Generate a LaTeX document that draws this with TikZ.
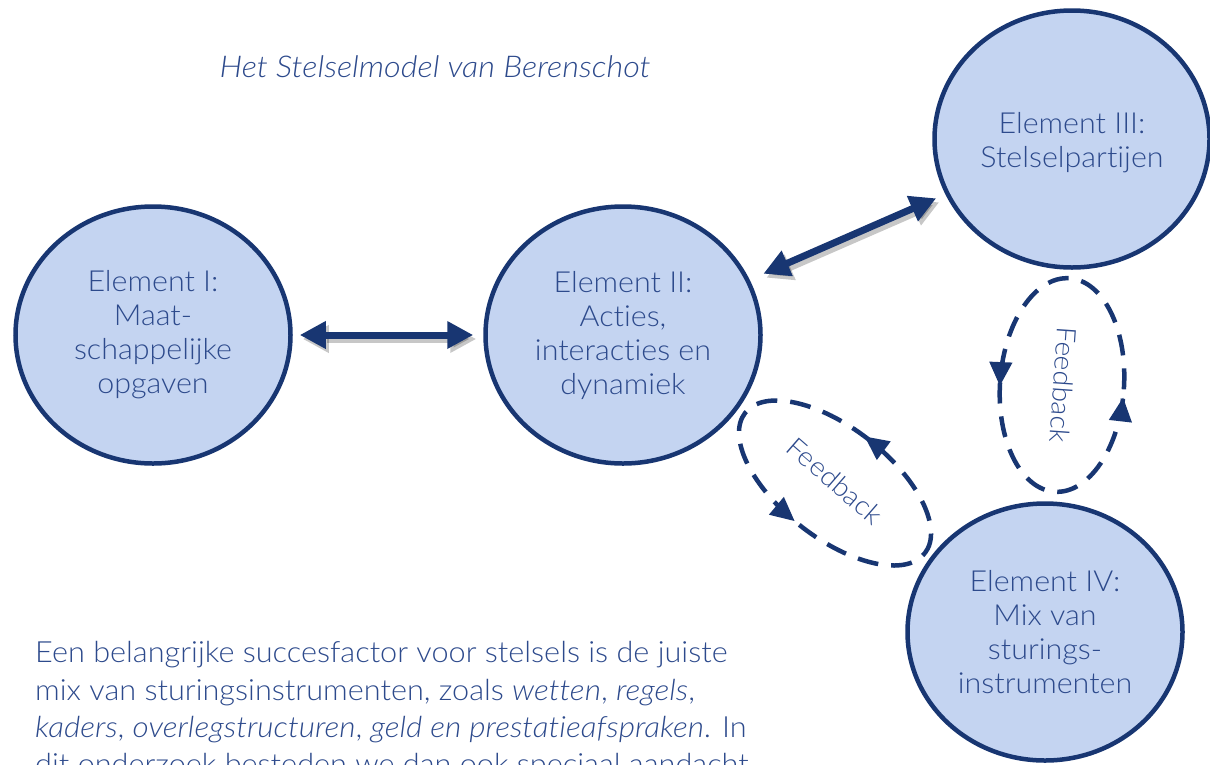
\documentclass[tikz,border=0pt]{standalone}
\usepackage{fontspec}
\usetikzlibrary{arrows.meta,decorations.markings,shapes.geometric}
\IfFontExistsTF{Lato Light}{%
  \IfFontExistsTF{Lato Light Italic}{%
    \setmainfont{Lato Light}[ItalicFont={Lato Light Italic},
      FakeStretch=1.05, Ligatures=NoCommon,
      ItalicFeatures={FakeStretch=1.08}]}{%
    \setmainfont{Lato Light}[FakeStretch=1.05, Ligatures=NoCommon]}}{%
  \setmainfont{Lato}[FakeStretch=1.05, Ligatures=NoCommon]}
\definecolor{navy}{RGB}{24,54,114}
\definecolor{fillblue}{RGB}{196,212,241}
\definecolor{txt}{RGB}{45,74,140}
\tikzset{
  elem/.style={ellipse, draw=navy, line width=4.5pt, fill=fillblue,
    minimum width=275pt, minimum height=257pt, inner sep=0pt, align=center,
    text=txt, font=\fontsize{29}{34}\selectfont},
  bigarrow/.style={draw=navy, line width=7pt,
    {Triangle[length=26pt,width=26pt]}-{Triangle[length=26pt,width=26pt]}},
  arrowshadow/.style={draw=black, opacity=0.22, line width=7pt,
    {Triangle[length=26pt,width=26pt]}-{Triangle[length=26pt,width=26pt]},
    transform canvas={shift={(3pt,-4pt)}}},
  fbloop/.style={draw=navy, line width=4.5pt, dash pattern=on 21pt off 13pt},
  fbtip/.style={navy},
  fblabel/.style={text=txt, font=\fontsize{27}{30}\selectfont, inner sep=0pt},
  bodyline/.style={anchor=base west, text=txt, inner sep=0pt,
    font=\fontsize{29.2}{37}\selectfont},
}
\begin{document}
\begin{tikzpicture}[x=1pt,y=-1pt]
\useasboundingbox (0,0) rectangle (1210,764);
\clip (0,0) rectangle (1210,764);

% title
\node[text=txt, font=\fontsize{30}{36}\selectfont\itshape, anchor=base] (title) at (435,77) {Het Stelselmodel van Berenschot};

% elements
\node[elem] (e1) at (153,335) {Element I:\\Maat-\\schappelijke\\opgaven};
\node[elem] (e2) at (623,335) {Element II:\\Acties,\\interacties en\\dynamiek};
\node[elem] (e3) at (1072,139) {\rule{0pt}{29pt}Element III:\\Stelselpartijen};
\node[elem] (e4) at (1045,632) {Element IV:\\Mix van\\sturings-\\instrumenten};

% double arrows
\draw[arrowshadow, shorten <=7pt, shorten >=10pt] (e1) -- (e2);
\draw[bigarrow, shorten <=7pt, shorten >=10pt] (e1) -- (e2);
\draw[arrowshadow, shorten <=15pt, shorten >=10pt] (e2) -- (e3);
\draw[bigarrow, shorten <=15pt, shorten >=10pt] (e2) -- (e3);

% feedback loop between II and IV
\draw[fbloop, rotate around={-38:(835,483)},
  postaction={decorate, decoration={markings,
    mark=at position 0.26 with {\arrow[fbtip]{Triangle[length=24pt,width=22pt]}},
    mark=at position 0.735 with {\arrow[fbtip]{Triangle[length=24pt,width=22pt]}}}}]
  (835,483) ellipse [x radius=114pt, y radius=55pt];
\node[fblabel, rotate=-41] (fb1) at (835,481) {Feedback};

% feedback loop between III and IV
\draw[fbloop, rotate around={-4:(1062,385)},
  postaction={decorate, decoration={markings,
    mark=at position 0.51 with {\arrow[fbtip]{Triangle[length=24pt,width=22pt]}},
    mark=at position 0.985 with {\arrow[fbtip]{Triangle[length=24pt,width=22pt]}}}}]
  (1062,385) ellipse [x radius=62pt, y radius=107pt];
\node[fblabel, rotate=-94] (fb2) at (1063,385) {Feedback};

% body text
\node[bodyline] (b1) at (35,662) {Een belangrijke succesfactor voor stelsels is de juiste};
\node[bodyline] (b2) at (35,700) {mix van sturingsinstrumenten, zoals \textit{wetten}, \textit{regels},};
\node[bodyline] (b3) at (35,737) {\textit{kaders}, \textit{overlegstructuren}, \textit{geld en prestatieafspraken}. In};
\node[bodyline] (b4) at (35,774) {dit onderzoek besteden we dan ook speciaal aandacht};
\end{tikzpicture}
\end{document}
